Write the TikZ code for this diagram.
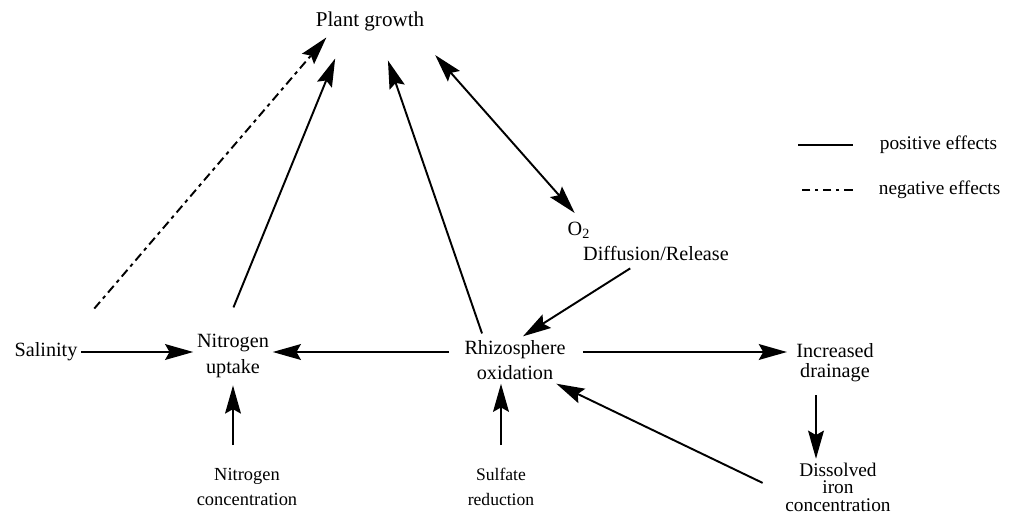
\documentclass[tikz,border=0pt]{standalone}
\usepackage{fontspec}
\setmainfont{Liberation Serif}
\usetikzlibrary{arrows.meta}

\begin{document}
\begin{tikzpicture}[
  x=0.02cm, y=-0.02cm,
  factor/.style={align=center, inner sep=2pt, font=\fontsize{11.5}{14.5}\selectfont},
  source/.style={align=center, inner sep=2pt, font=\fontsize{10.5}{14.5}\selectfont},
  poseffect/.style={line width=1.1pt, -{Stealth[length=16pt,width=9pt,inset=2.5pt]}},
  negeffect/.style={poseffect, dash pattern=on 5pt off 2.5pt on 2pt off 2.5pt}
]
\useasboundingbox (0,0) rectangle (1012,514);

% Top
\node[factor, font=\fontsize{12}{14}\selectfont] (plant) at (370,21) {Plant growth};

% Middle row
\node[factor] (salinity) at (46,352) {Salinity};
\node[factor] (nitro) at (233,356) {Nitrogen\\uptake};
\node[factor] (rhizo) at (515,360) {Rhizosphere\\oxidation};
\node[factor, font=\fontsize{11.5}{11.5}\selectfont] (drain) at (835,363) {Increased\\drainage};

% Oxygen
\node[factor] (otwo) at (579,230) {O\textsubscript{2}};
\node[factor] (diff) at (656,253) {Diffusion/Release};

% Bottom row
\node[source] (nconc) at (247,487) {Nitrogen\\concentration};
\node[source, font=\fontsize{10}{14.5}\selectfont] (sulf) at (501,487) {Sulfate\\reduction};
\node[factor, font=\fontsize{11}{10}\selectfont] (iron) at (838,487) {Dissolved\\iron\\concentration};

% Legend
\node[factor, font=\fontsize{11}{13}\selectfont, anchor=west] (legpos) at (876,145) {positive effects};
\node[factor, font=\fontsize{11}{13}\selectfont, anchor=west] (legneg) at (875,190) {negative effects};
\draw[line width=1.1pt] ([xshift=-0.47cm]legpos.west) -- ++(-1.1cm,0);
\draw[negeffect,-] ([xshift=-0.45cm]legneg.west) -- ++(-1.1cm,0);

% Effects on plant growth
\draw[negeffect, shorten <=0.8cm, shorten >=0.08cm] ([xshift=-0.26cm]salinity.north east) -- ([xshift=0.34cm]plant.south west);
\draw[poseffect, shorten <=0.5cm, shorten >=0.52cm] ([xshift=-0.18cm]nitro.north) -- ([xshift=-0.5cm]plant.south);
\draw[poseffect, shorten <=0.06cm, shorten >=0.55cm] ([xshift=-0.64cm]rhizo.north) -- ([xshift=0.18cm]plant.south);
\draw[poseffect, {Stealth[length=16pt,width=9pt,inset=2.5pt]}-{Stealth[length=16pt,width=9pt,inset=2.5pt]}, shorten <=0.55cm, shorten >=0.13cm] ([xshift=0.94cm]plant.south) -- (otwo.north);

% Middle row arrows
\draw[poseffect] (salinity.east) -- (nitro.west |- salinity.east);
\draw[poseffect, shorten <=0.23cm] (rhizo.west |- salinity.east) -- (nitro.east |- salinity.east);
\draw[poseffect, shorten <=0.27cm, shorten >=0.11cm] (rhizo.east |- salinity.east) -- (drain.west |- salinity.east);
\draw[poseffect, shorten <=0.16cm] ([xshift=-0.38cm]diff.south) -- ([xshift=0.16cm]rhizo.north);

% Bottom arrows
\draw[poseffect, shorten <=0.38cm, shorten >=0.08cm] (nconc.north -| nitro.south) -- (nitro.south);
\draw[poseffect, shorten <=0.38cm] (sulf.north) -- (sulf.north |- rhizo.south);
\draw[poseffect, shorten <=0.18cm] ([xshift=-0.38cm]drain.south) -- ([xshift=-0.44cm]iron.north);
\draw[poseffect, shorten <=0.42cm] ([yshift=-0.1cm]iron.west) -- ([xshift=-0.26cm]rhizo.south east);

\end{tikzpicture}
\end{document}
